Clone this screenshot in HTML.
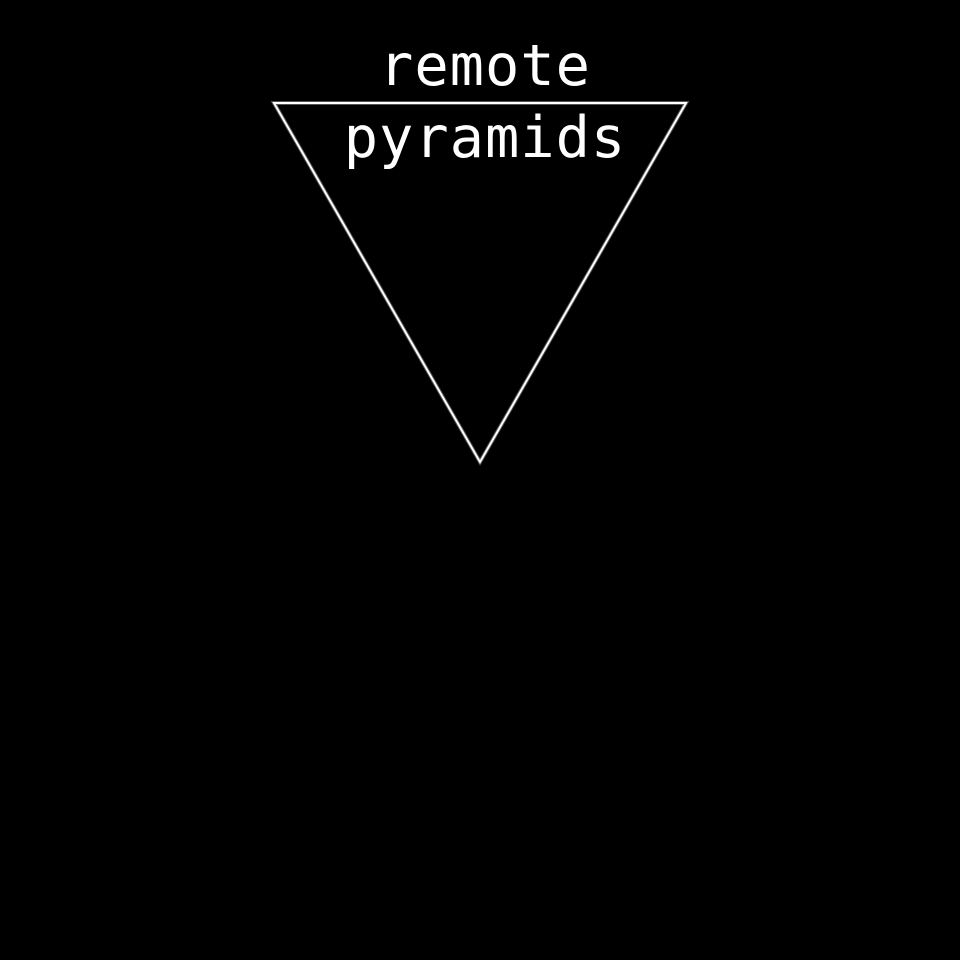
<!DOCTYPE html>
<html><head><meta charset="utf-8"><style>
html,body{margin:0;padding:0;background:#000;width:960px;height:960px;overflow:hidden}
</style></head><body>
<svg width="960" height="960" viewBox="0 0 960 960" xmlns="http://www.w3.org/2000/svg">
<rect width="960" height="960" fill="#000"/>
<polygon points="274,103 686,103 480,462" fill="none" stroke="#888" stroke-width="4" opacity="0.6"/>
<polygon points="274,103 686,103 480,462" fill="none" stroke="#fff" stroke-width="2"/>
<g font-family="'DejaVu Sans Mono','Liberation Mono',monospace" font-size="57" fill="#fff" text-anchor="middle" letter-spacing="1">
<text x="485" y="85">remote</text>
<text x="485" y="157">pyramids</text>
</g>
</svg>
</body></html>
